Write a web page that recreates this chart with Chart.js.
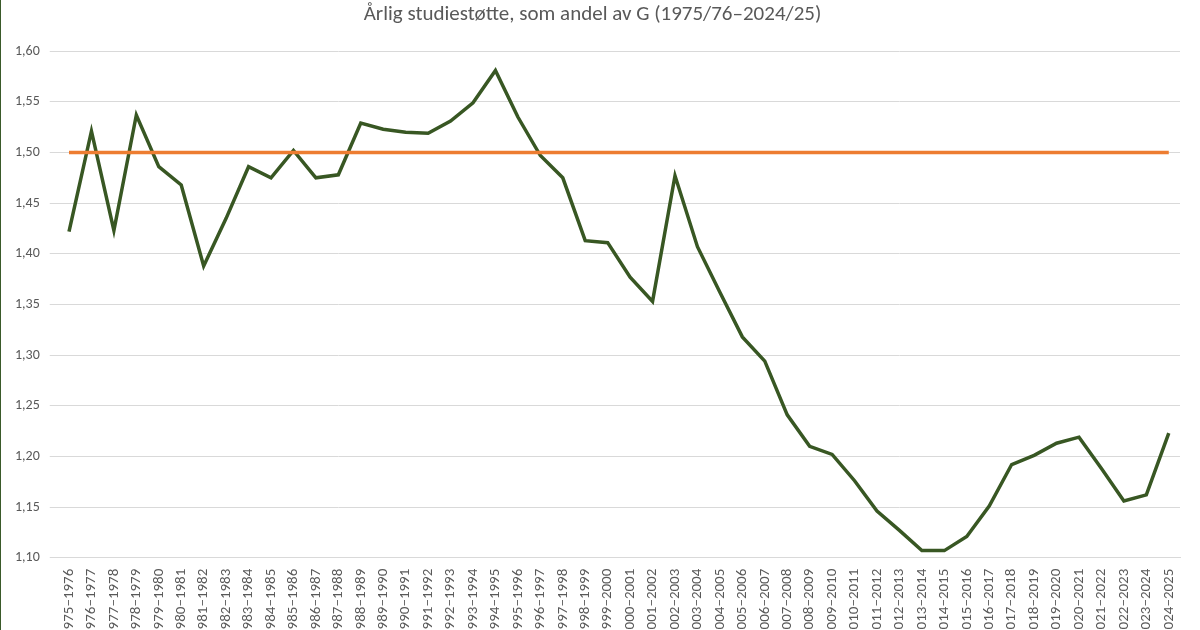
<!DOCTYPE html>
<html>
<head>
<meta charset="utf-8">
<script src="https://cdn.jsdelivr.net/npm/chart.js@4"></script>
<style>
    html, body { margin: 0; padding: 0; overflow: hidden; background: #fff; }
    #wrap { width: 1200px; height: 640px; position: relative; border-left: 1px solid #3a5a2a; box-sizing: border-box; }
</style>
</head>
<body>
<div id="wrap"><canvas id="chart"></canvas></div>
<script>
const startYears = []
for (let y = 1975; y <= 2024; y++) startYears.push(y)
const labels = startYears.map(y => `${y}–${y + 1}`)

const studiestotte = [
    1.422, 1.521, 1.423, 1.537, 1.486, 1.468, 1.388, 1.435, 1.486, 1.475,
    1.502, 1.475, 1.478, 1.529, 1.523, 1.520, 1.519, 1.531, 1.549, 1.581,
    1.535, 1.497, 1.475, 1.413, 1.411, 1.377, 1.353, 1.477, 1.407, 1.362,
    1.318, 1.294, 1.241, 1.210, 1.202, 1.176, 1.146, 1.127, 1.107, 1.107,
    1.121, 1.151, 1.192, 1.201, 1.213, 1.219, 1.188, 1.156, 1.162, 1.223
]
const target = labels.map(() => 1.5)

const fmt = v => v.toFixed(2).replace(".", ",")
const font = "Calibri, Carlito, 'Liberation Sans', sans-serif"

new Chart(document.querySelector("#chart"), {
    type: "line",
    data: {
        labels: labels,
        datasets: [
            { data: target, borderColor: "#ed7d31", borderWidth: 3.5, pointRadius: 0 },
            { data: studiestotte, borderColor: "#385723", borderWidth: 3.5, pointRadius: 0, tension: 0 }
        ]
    },
    options: {
        responsive: true,
        maintainAspectRatio: false,
        animation: false,
        layout: { padding: { left: 4, right: 20, top: 0, bottom: 0 } },
        plugins: {
            legend: { display: false },
            tooltip: { enabled: false },
            title: {
                display: true,
                text: "Årlig studiestøtte, som andel av G (1975/76–2024/25)",
                color: "#595959",
                font: { family: font, size: 21, weight: "normal" },
                padding: { top: 2, bottom: 24 }
            }
        },
        scales: {
            x: {
                offset: true,
                grid: { display: false },
                border: { color: "#d9d9d9" },
                ticks: {
                    color: "#595959",
                    autoSkip: false,
                    maxRotation: 90,
                    minRotation: 90,
                    font: { family: font, size: 15 }
                }
            },
            y: {
                min: 1.1,
                max: 1.6,
                grid: { color: "#d9d9d9" },
                border: { display: false },
                ticks: {
                    stepSize: 0.05,
                    color: "#595959",
                    padding: 10,
                    callback: v => fmt(v),
                    font: { family: font, size: 14 }
                }
            }
        }
    }
})
</script>
</body>
</html>
